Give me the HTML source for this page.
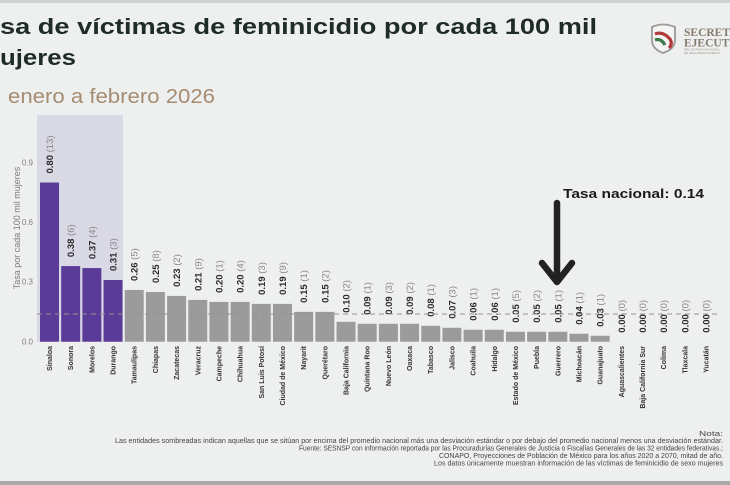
<!DOCTYPE html>
<html lang="es">
<head>
<meta charset="utf-8">
<style>
  html,body{margin:0;padding:0;background:#eef0ef;}
  body{width:730px;height:485px;overflow:hidden;}
  svg{display:block;font-family:"Liberation Sans",sans-serif;}
</style>
</head>
<body>
<svg width="730" height="485" viewBox="0 0 730 485" xmlns="http://www.w3.org/2000/svg">
  <rect x="0" y="0" width="730" height="485" fill="#eef0ef"/>
  <rect x="0" y="0" width="730" height="3" fill="#cfd1d0"/>
  <rect x="0" y="481" width="730" height="4" fill="#a9aaa9"/>

  <!-- Title -->
  <text x="0" y="34" font-size="22" font-weight="bold" fill="#1f2b27" textLength="597" lengthAdjust="spacingAndGlyphs">sa de víctimas de feminicidio por cada 100 mil</text>
  <text x="0" y="65" font-size="22" font-weight="bold" fill="#1f2b27" textLength="76" lengthAdjust="spacingAndGlyphs">ujeres</text>
  <text x="8" y="103" font-size="20" fill="#a68c70" textLength="207" lengthAdjust="spacingAndGlyphs">enero a febrero 2026</text>

  <!-- Logo -->
  <g>
    <path d="M652 27 Q663 22 675 27 L675 40 Q675 49 663 53 Q652 49 652 40 Z" fill="#f4f4f2" stroke="#9a9a98" stroke-width="1.8"/>
    <path d="M655 34 Q663 31 670 39 Q673 44 669 48" fill="none" stroke="#b23a3a" stroke-width="3.2"/>
    <path d="M655 40 Q661 38 665 45" fill="none" stroke="#3c7a4a" stroke-width="3.2"/>
    <text x="684" y="36" font-family="Liberation Serif,serif" font-weight="bold" font-size="11.5" fill="#857a6c">SECRETA</text>
    <text x="684" y="46.5" font-family="Liberation Serif,serif" font-weight="bold" font-size="11.5" fill="#857a6c">EJECUTI</text>
    <text x="684" y="50.5" font-size="3" fill="#9a9088">DEL SISTEMA NACIONAL</text>
    <text x="684" y="54" font-size="3" fill="#9a9088">DE SEGURIDAD PUBLICA</text>
  </g>

  <!-- Shaded area -->
  <rect x="37" y="115" width="86" height="227" fill="#d9d8e5"/>

  <!-- Y axis -->
  <text transform="translate(20,228) rotate(-90)" text-anchor="middle" font-size="9" fill="#7c7c7c">Tasa por cada 100 mil mujeres</text>
  <g font-size="8" fill="#808080" text-anchor="end">
    <text x="33" y="165.7">0.9</text>
    <text x="33" y="225.2">0.6</text>
    <text x="33" y="284.7">0.3</text>
    <text x="33" y="344.5">0.0</text>
  </g>

  <!-- bars -->
  <g id="bars"></g>

  <!-- National line -->
  <line x1="37" y1="314" x2="717" y2="314" stroke="#929292" stroke-width="1" stroke-dasharray="5 4"/>

  <!-- Arrow -->
  <line x1="557" y1="203" x2="557" y2="280" stroke="#222" stroke-width="6.5" stroke-linecap="round"/>
  <polyline points="542,263 557,282 572,263" fill="none" stroke="#222" stroke-width="6.5" stroke-linecap="round" stroke-linejoin="round"/>
  <text x="563" y="198" font-size="13" font-weight="bold" fill="#1a1a1a" textLength="141" lengthAdjust="spacingAndGlyphs">Tasa nacional: 0.14</text>

  <!-- Footer -->
  <g font-size="7" fill="#444">
    <text x="699" y="436" textLength="24" lengthAdjust="spacingAndGlyphs">Nota:</text>
    <text x="115" y="443" textLength="608" lengthAdjust="spacingAndGlyphs">Las entidades sombreadas indican aquellas que se sitúan por encima del promedio nacional más una desviación estándar o por debajo del promedio nacional menos una desviación estándar.</text>
    <text x="299" y="450.5" textLength="424" lengthAdjust="spacingAndGlyphs">Fuente: SESNSP con información reportada por las Procuradurías Generales de Justicia o Fiscalías Generales de las 32 entidades federativas.;</text>
    <text x="439" y="458" textLength="284" lengthAdjust="spacingAndGlyphs">CONAPO, Proyecciones de Población de México para los años 2020 a 2070, mitad de año.</text>
    <text x="434" y="465.5" textLength="289" lengthAdjust="spacingAndGlyphs">Los datos únicamente muestran información de las víctimas de feminicidio de sexo mujeres</text>
  </g>
</svg>
<script>
(function(){
  var data=[
   ["Sinaloa",0.80,13],["Sonora",0.38,6],["Morelos",0.37,4],["Durango",0.31,3],
   ["Tamaulipas",0.26,5],["Chiapas",0.25,8],["Zacatecas",0.23,2],["Veracruz",0.21,9],
   ["Campeche",0.20,1],["Chihuahua",0.20,4],["San Luis Potosí",0.19,3],["Ciudad de México",0.19,9],
   ["Nayarit",0.15,1],["Querétaro",0.15,2],["Baja California",0.10,2],["Quintana Roo",0.09,1],
   ["Nuevo León",0.09,3],["Oaxaca",0.09,2],["Tabasco",0.08,1],["Jalisco",0.07,3],
   ["Coahuila",0.06,1],["Hidalgo",0.06,1],["Estado de México",0.05,5],["Puebla",0.05,2],
   ["Guerrero",0.05,1],["Michoacán",0.04,1],["Guanajuato",0.03,1],["Aguascalientes",0,0],
   ["Baja California Sur",0,0],["Colima",0,0],["Tlaxcala",0,0],["Yucatán",0,0]
  ];
  var NS="http://www.w3.org/2000/svg";
  var g=document.getElementById("bars");
  var base=341.7, k=199;
  function el(n,a,t){var e=document.createElementNS(NS,n);for(var i in a)e.setAttribute(i,a[i]);if(t!=null)e.textContent=t;return e;}
  data.forEach(function(d,i){
    var cx=49.5+i*21.18;
    var h=d[1]*k, top=base-h;
    if(h>0) g.appendChild(el("rect",{x:(cx-9.5).toFixed(2),y:top.toFixed(2),width:19,height:h.toFixed(2),fill:i<4?"#5a3c98":"#9b9b9b"}));
    var t=el("text",{transform:"translate("+(cx+3.5).toFixed(2)+","+(top-9).toFixed(2)+") rotate(-90)","font-size":"9.5"});
    var s1=el("tspan",{"font-weight":"bold",fill:"#2a2a2a"},d[1].toFixed(2));
    var s2=el("tspan",{fill:"#888"}," ("+d[2]+")");
    t.appendChild(s1);t.appendChild(s2);g.appendChild(t);
    g.appendChild(el("text",{transform:"translate("+(cx+2.5).toFixed(2)+",346) rotate(-90)","text-anchor":"end","font-size":"7","font-weight":"bold",fill:"#333"},d[0]));
  });
})();
</script>
</body>
</html>
